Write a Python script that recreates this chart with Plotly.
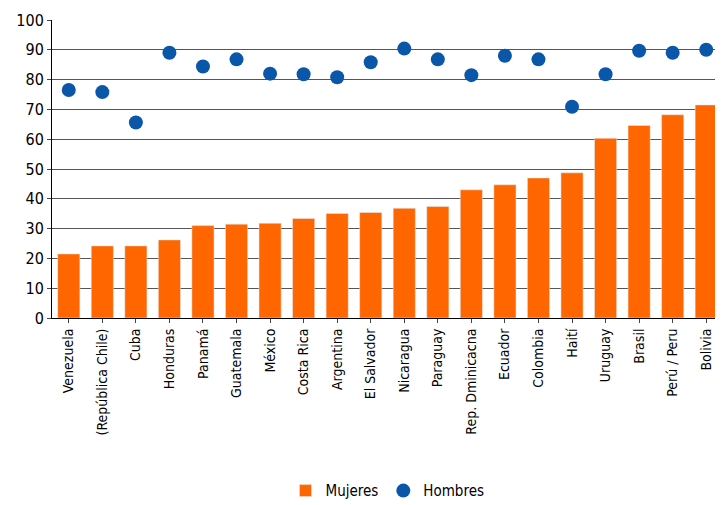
import plotly.graph_objects as go

paises = ["Venezuela", "(República Chile)", "Cuba", "Honduras", "Panamá", "Guatemala",
          "México", "Costa Rica", "Argentina", "El Salvador", "Nicaragua", "Paraguay",
          "Rep. Dminicacna", "Ecuador", "Colombia", "Haití", "Uruguay", "Brasil",
          "Perú / Peru", "Bolivia"]
mujeres = [21.5, 24.2, 24.2, 26.2, 31.0, 31.5, 31.8, 33.4, 35.1, 35.4, 36.8, 37.4,
           43.0, 44.7, 47.0, 48.7, 60.3, 64.6, 68.2, 71.5]
hombres = [76.5, 75.8, 65.6, 89.0, 84.4, 86.8, 82.0, 81.8, 80.8, 85.8, 90.4, 86.8,
           81.5, 88.0, 86.8, 70.9, 81.8, 89.7, 89.0, 90.0]

fig = go.Figure()
fig.add_bar(x=paises, y=mujeres, name="Mujeres", marker_color="#ff6600", width=0.66)
fig.add_scatter(x=paises, y=hombres, name="Hombres", mode="markers",
                marker=dict(color="#0a56a8", size=14), cliponaxis=False)

fig.update_layout(
    width=715, height=500, plot_bgcolor="white", paper_bgcolor="white",
    margin=dict(l=44, r=0, t=12, b=186),
    font=dict(family="DejaVu Sans Condensed, Liberation Sans Narrow, sans-serif", size=14, color="black"),
    legend=dict(orientation="h", x=0.5, xanchor="center", y=-0.58, yanchor="middle",
                font=dict(size=15)),
)
fig.update_yaxes(range=[0, 100], dtick=10, showgrid=True, gridcolor="#555", gridwidth=1,
                 showline=True, linecolor="black", ticks="outside", ticklen=4,
                 zeroline=False, automargin=False, tickfont=dict(size=16))
fig.update_xaxes(tickangle=-90, showline=True, linecolor="black", ticks="outside",
                 ticklen=4, range=[-0.5, 19.5], automargin=False)
fig.write_html("out.html")
